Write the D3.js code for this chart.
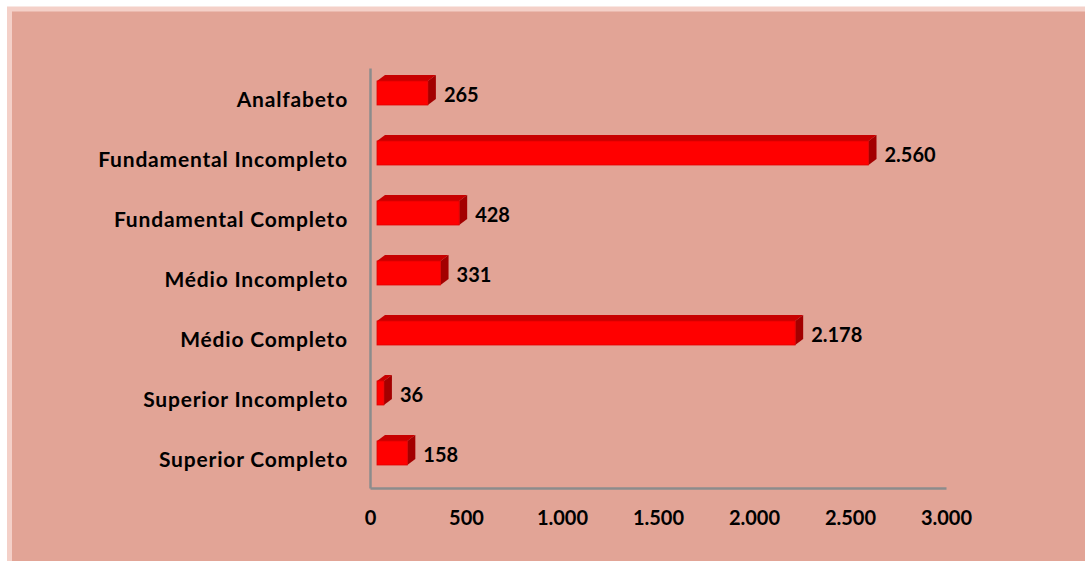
<!DOCTYPE html>
<html>
<head>
<meta charset="utf-8">
<script src="https://cdn.jsdelivr.net/npm/d3@7"></script>
<style>
	html, body { margin: 0; padding: 0; background: #ffffff; }
	#vizHolder { width: 1085px; height: 561px; }
	text { font-family: Lato, "Open Sans", sans-serif; font-weight: bold; fill: #000; }
</style>
</head>
<body>
<div id="vizHolder"></div>
<script>
var categories = ['Analfabeto', 'Fundamental Incompleto', 'Fundamental Completo', 'Médio Incompleto', 'Médio Completo', 'Superior Incompleto', 'Superior Completo'],
	values = [265, 2560, 428, 331, 2178, 36, 158],
	ticks = [0, 500, 1000, 1500, 2000, 2500, 3000];

var width = 1085,
	height = 561,
	padLeft = 370,
	padTop = 68,
	plotW = 576,
	plotH = 420,
	depthX = 8,
	depthY = -6,
	barH = 24,
	fontSize = '20px';

var fmt = function(v) { return d3.format(',')(v).replace(/,/g, '.'); };

var svg = d3.select('#vizHolder')
	.append('svg')
	.attr('width', width)
	.attr('height', height);

//Background with light frame
svg.append('rect')
	.attr('x', 0).attr('y', 0)
	.attr('width', width).attr('height', height)
	.attr('fill', '#ffffff');
svg.append('rect')
	.attr('x', 9.5).attr('y', 9)
	.attr('width', width).attr('height', height)
	.attr('fill', '#e2a496')
	.attr('stroke', '#f4d0c8')
	.attr('stroke-width', 5);

var xScale = d3.scaleLinear()
	.domain([0, 3000])
	.range([0, plotW]);

var yScale = d3.scaleBand()
	.domain(categories)
	.range([0, plotH]);

var viz = svg.append('g')
	.attr('transform', 'translate(' + padLeft + ',' + padTop + ')');

//Axes
var xAxis = viz.append('g')
	.attr('transform', 'translate(0,' + plotH + ')')
	.call(d3.axisBottom(xScale).tickValues(ticks).tickSize(0).tickPadding(23).tickFormat(fmt));
xAxis.select('.domain').attr('stroke', '#8c8c8c').attr('stroke-width', 2.5);
xAxis.selectAll('text').style('font-size', fontSize).style('font-family', 'Lato, sans-serif');

var yAxis = viz.append('g')
	.call(d3.axisLeft(yScale).tickSize(0).tickPadding(22));
yAxis.select('.domain').attr('stroke', '#8c8c8c').attr('stroke-width', 2.5);
yAxis.selectAll('text')
	.style('font-size', '21px')
	.style('letter-spacing', '0.8px')
	.style('font-family', 'Lato, sans-serif')
	.attr('dy', '0.42em');

//3D bars
var bars = viz.selectAll('g.bar')
	.data(categories)
	.enter()
	.append('g')
	.attr('class', 'bar')
	.attr('transform', function(d) {
		return 'translate(' + (depthX - 1) + ',' + (yScale(d) + yScale.bandwidth() / 2 - barH / 2 - 5) + ')';
	});

bars.append('path')
	.attr('fill', '#c80000')
	.attr('d', function(d, i) {
		var w = xScale(values[i]);
		return 'M0,0 L' + depthX + ',' + depthY + ' L' + (w + depthX) + ',' + depthY + ' L' + w + ',0 Z';
	});

bars.append('path')
	.attr('fill', '#a30000')
	.attr('d', function(d, i) {
		var w = xScale(values[i]);
		return 'M' + w + ',0 L' + (w + depthX) + ',' + depthY + ' L' + (w + depthX) + ',' + (barH + depthY) + ' L' + w + ',' + barH + ' Z';
	});

bars.append('rect')
	.attr('x', 0)
	.attr('y', 0)
	.attr('width', function(d, i) { return xScale(values[i]); })
	.attr('height', barH)
	.attr('fill', '#ff0000')
	.attr('stroke', '#e00000')
	.attr('stroke-width', 0.8);

bars.append('text')
	.attr('x', function(d, i) { return xScale(values[i]) + depthX + 8; })
	.attr('y', barH / 2 + 2)
	.attr('dy', '0.35em')
	.style('font-size', fontSize)
	.text(function(d, i) { return fmt(values[i]); });
</script>
</body>
</html>
